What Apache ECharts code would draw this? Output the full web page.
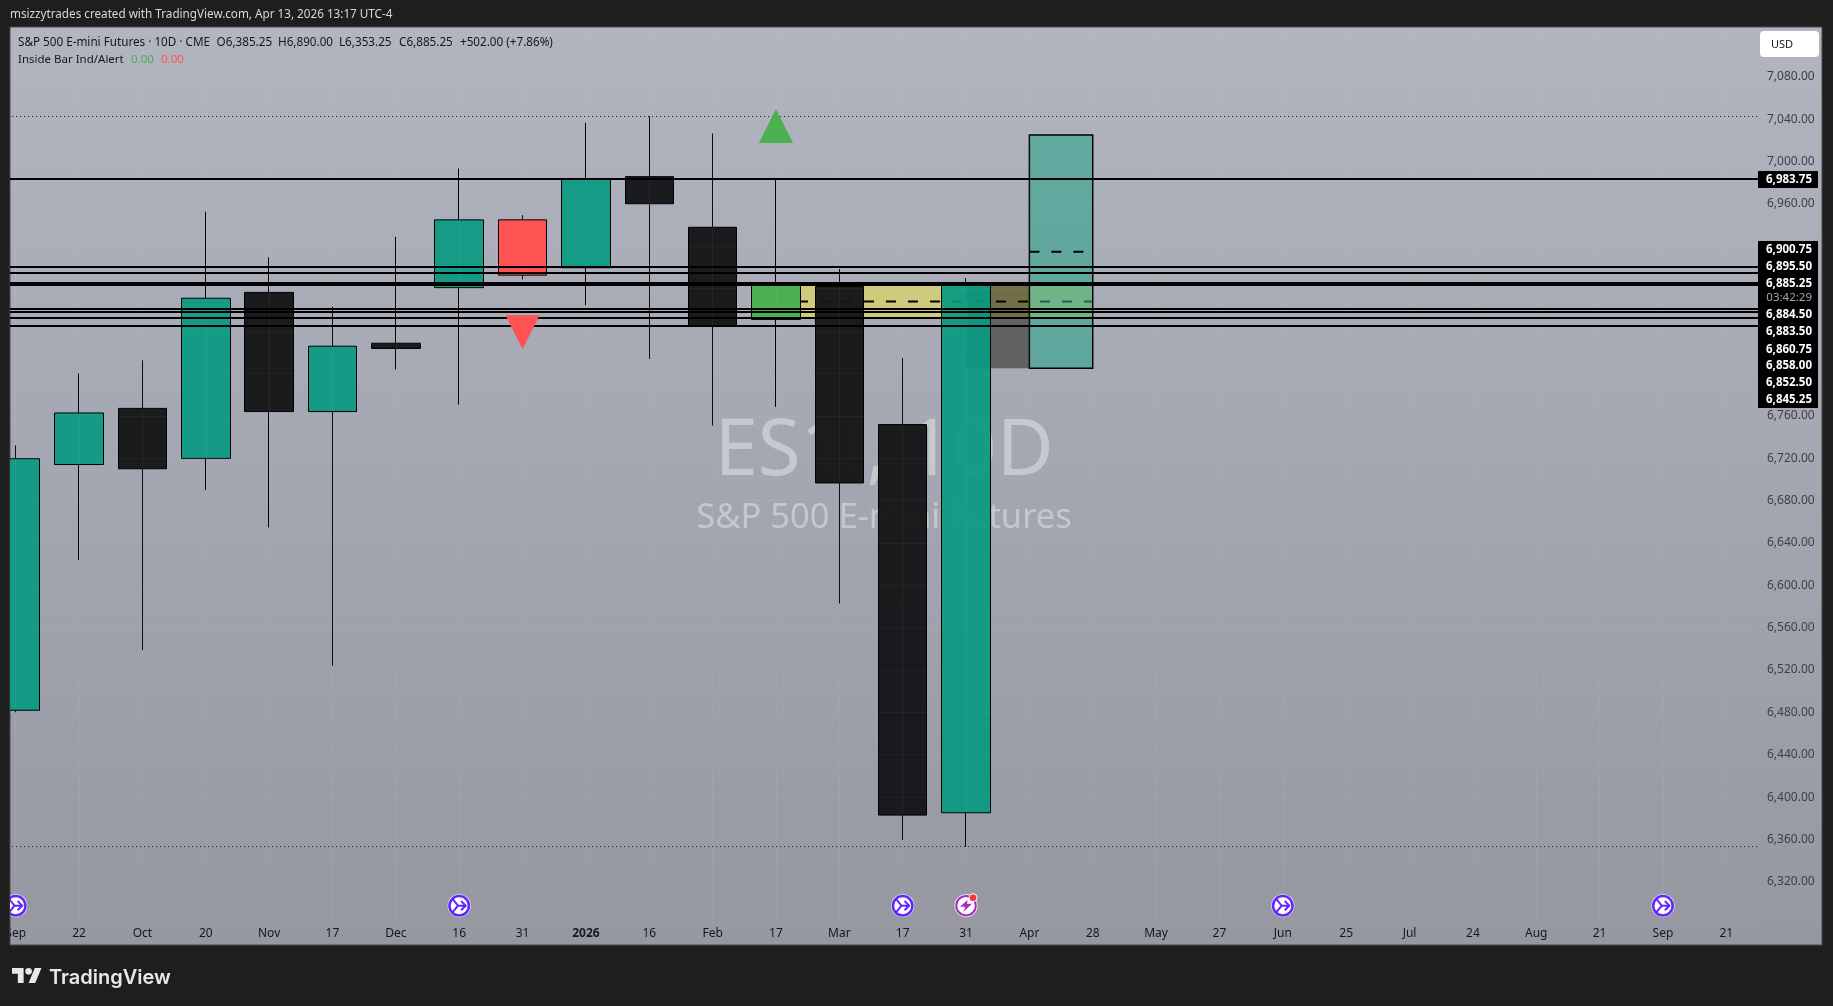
<!DOCTYPE html>
<html><head><meta charset="utf-8">
<style>html,body{margin:0;padding:0;background:#1e1e1e;overflow:hidden;width:1833px;height:1006px}#c{position:absolute;left:-40px;top:0;width:1873px;height:1006px}</style>
<script src="https://cdn.jsdelivr.net/npm/echarts@6/dist/echarts.min.js"></script>
</head><body><div id="c"></div>
<script>
const timeLabels=['Sep','22','Oct','20','Nov','17','Dec','16','31','2026','16','Feb','17','Mar','17','31','Apr','28','May','27','Jun','25','Jul','24','Aug','21','Sep','21'];
const priceTicks=[7080,7040,7000,6960,6760,6720,6680,6640,6600,6560,6520,6480,6440,6400,6360,6320];
// [index, open, close, low, high]
const upCandles=[
 [0,6482,6719.5,6480,6732],[1,6714,6762.7,6623.7,6800],[3,6719.8,6871,6690,6952.7],[5,6764,6825.7,6524,6863],
 [7,6881,6945,6770.6,6993.5],[9,6899.8,6983.6,6864.4,7036.6],[15,6385.25,6885.25,6353.25,6890]];
const downCandles=[
 [2,6767,6710,6538.7,6812.4],[4,6876.5,6764,6654.6,6909.6],[6,6828.5,6823.6,6803.7,6929],[10,6985.8,6960.2,6813.6,7043],
 [11,6938,6844.6,6750.7,7026.6],[13,6882,6696.6,6582.8,6898.7],[14,6751.7,6383,6359.5,6814.6]];
const redBar=[8,6892.8,6945,6888.7,6949.5];
const greenBar=[12,6851,6884,6768.4,6982.6];
const solidLevels=[6983.75,6900.75,6895.5,6885.25,6884.5,6883.5,6860.75,6858,6852.5,6845.25];
const dottedLevels=[7043,6353.25];
const lastClose=6885.25;
const tagBlock=['6,900.75','6,895.50','6,885.25','03:42:29','6,884.50','6,883.50','6,860.75','6,858.00','6,852.50','6,845.25'];
const legendParts=['S&P 500 E-mini Futures · 10D · CME','O6,385.25','H6,890.00','L6,353.25','C6,885.25','+502.00 (+7.86%)'];
const triangleUp=[[12,7033.7]];
const triangleDown=[[8,6839]];
const eventIdx=[0,7,14,20,26];
const earningsIdx=[15];
const eventPrice=6297.5;
// [fromIndex,toIndex,top,bottom]
const yellowBox=[12,17,6885.25,6852.5];
const darkBox=[15,16,6885.25,6805];
const tealBox=[16,17,7025,6805];
const dashMid=[[12,6868],[17,6868]];
const dashTop=[[16,6915],[17,6915]];

const F='"Noto Sans",sans-serif';
const chart=echarts.init(document.getElementById('c'),null,{renderer:'canvas',width:1873,height:1006});
const byIdx=[];
upCandles.concat(downCandles,[redBar,greenBar]).forEach(c=>byIdx[c[0]]=c);
const UP='rgba(8,153,129,.92)',DN='rgba(20,21,23,.96)';
const candleData=timeLabels.map((_,i)=>{
  const c=byIdx[i]; if(!c) return '-';
  const o={value:c.slice(1)};
  if(c===redBar) o.itemStyle={color:'#FF5252',color0:'#FF5252'};
  else if(c===greenBar) o.itemStyle={color:'#4CAF50',color0:'#4CAF50'};
  return o;
});
function boxSeries(b,fill,stroke,z){
  return {type:'custom',z,silent:true,clip:true,encode:{x:[0,1],y:[2,3]},data:[b],
   renderItem:(p,api)=>{
    const a=api.coord([api.value(0),api.value(2)]),d=api.coord([api.value(1),api.value(3)]);
    return {type:'rect',shape:{x:a[0],y:a[1],width:d[0]-a[0],height:d[1]-a[1]},style:{fill,stroke:stroke||null,lineWidth:stroke?1.5:0}};
   }};
}
function dashSeries(d,z){return {type:'line',z,silent:true,symbol:'none',data:d,lineStyle:{color:'#000',width:2,type:[10,12]}};}
function scat(data,sym,size,st,z,extra){return Object.assign({type:'scatter',z,silent:true,symbol:sym,symbolSize:size,data,itemStyle:Object.assign({opacity:1},st)},extra||{});}
const ARROW='path://M4 5L11 12L4 19M11 12H21M15 7L21 12L15 17';
const BOLT='path://M14 2L5 14H11L9 22L19 9H13Z';
const evD=eventIdx.map(i=>[i,eventPrice]), erD=earningsIdx.map(i=>[i,eventPrice]);
const tagX=1758,tagW=60,tagTop=241;
const tagY=[249.3,266.7,284,297.7,314.7,332,349.3,365.3,382.7,400];
const legendX=[18,216.6,278,339,399,460];
const OX=40;
const lg=(pts)=>pts.map(p=>[OX+12+p[0]*.83,964.7+p[1]*.83]);
const g=[
 {type:'rect',z:0,shape:{x:10,y:27,width:1812,height:918},style:{stroke:'#4a4a4a',lineWidth:1,fill:new echarts.graphic.LinearGradient(0,0,0,1,[{offset:0,color:'#b2b5c0'},{offset:1,color:'#9598a1'}])}},
 {type:'text',z:1,x:884,y:453,style:{text:'ES1!, 10D',fill:'rgba(255,255,255,.38)',font:'78px '+F,textAlign:'center',textVerticalAlign:'middle'}},
 {type:'text',z:1,x:884,y:518,style:{text:'S&P 500 E-mini Futures',fill:'rgba(255,255,255,.38)',font:'34.5px '+F,textAlign:'center',textVerticalAlign:'middle'}},
 {type:'rect',z:100,shape:{x:-40,y:0,width:50,height:1006},style:{fill:'#1e1e1e'}},
 {type:'rect',z:100,shape:{x:9.5,y:27,width:.5,height:918},style:{fill:'#4a4a4a'}},
 {type:'text',z:101,x:10,y:15,style:{text:'msizzytrades created with TradingView.com, Apr 13, 2026 13:17 UTC-4',fill:'#d8d8d8',font:'11.7px '+F,textVerticalAlign:'middle'}},
 {type:'text',z:101,x:18,y:60,style:{text:'Inside Bar Ind/Alert',fill:'#131722',font:'11.5px '+F,textVerticalAlign:'middle'}},
 {type:'text',z:101,x:131,y:60,style:{text:'0.00',fill:'#4CAF50',font:'11.5px '+F,textVerticalAlign:'middle'}},
 {type:'text',z:101,x:161,y:60,style:{text:'0.00',fill:'#FF5252',font:'11.5px '+F,textVerticalAlign:'middle'}},
 {type:'rect',z:101,shape:{x:1760,y:31,width:59,height:26,r:4},style:{fill:'#fff'}},
 {type:'text',z:102,x:1771,y:45,style:{text:'USD',fill:'#131722',font:'11px '+F,textVerticalAlign:'middle'}},
 {type:'rect',z:101,shape:{x:tagX,y:171,width:tagW,height:17},style:{fill:'#000'}},
 {type:'text',z:102,x:1812,y:180,style:{text:'6,983.75',fill:'#fff',font:'bold 11.5px '+F,textAlign:'right',textVerticalAlign:'middle'}},
 {type:'rect',z:101,shape:{x:tagX,y:tagTop,width:tagW,height:167},style:{fill:'#000'}},
 {type:'text',z:101,x:49,y:978,style:{text:'TradingView',fill:'#e8e8e8',font:'600 20px Inter,'+F,textVerticalAlign:'middle'}}
];
legendParts.forEach((t,i)=>g.push({type:'text',z:101,x:legendX[i],y:43,style:{text:t,fill:'#131722',font:'11.7px '+F,textVerticalAlign:'middle'}}));
tagBlock.forEach((t,i)=>g.push({type:'text',z:102,x:1812,y:tagY[i],style:{text:t,fill:t.includes(':')?'#a8a8a8':'#fff',font:(t.includes(':')?'':'bold ')+'11.5px '+F,textAlign:'right',textVerticalAlign:'middle'}}));
g.forEach(e=>{
  if(e.x!==undefined) e.x+=OX;
  if(e.shape) e.shape.x+=OX;
});
g.push(
 {type:'polygon',z:101,shape:{points:lg([[0,4],[14,4],[14,22],[7,22],[7,11],[0,11]])},style:{fill:'#e8e8e8'}},
 {type:'polygon',z:101,shape:{points:lg([[20,22],[27.5,4],[35.5,4],[28,22]])},style:{fill:'#e8e8e8'}},
 {type:'circle',z:101,shape:{cx:OX+12+20*.83,cy:964.7+8*.83,r:3.3},style:{fill:'#e8e8e8'}}
);

chart.setOption({
 animation:false,backgroundColor:'#1e1e1e',
 grid:{left:24,right:75,top:34.5,bottom:81.8,containLabel:false},
 graphic:{elements:g},
 xAxis:{type:'category',data:timeLabels,z:5,axisLine:{show:false},axisTick:{show:false},
  splitLine:{show:true,alignWithLabel:true,lineStyle:{color:'rgba(255,255,255,.05)',width:1}},
  axisLabel:{interval:0,margin:3.5,fontFamily:F,fontSize:12,color:'#131722',
   formatter:v=>v==='2026'?'{b|2026}':v,rich:{b:{fontWeight:'bold',fontSize:12,fontFamily:F,color:'#131722'}}}},
 yAxis:{type:'value',position:'right',min:6280,max:7120,interval:40,scale:true,z:5,
  axisLine:{show:false},axisTick:{show:false},
  splitLine:{show:true,lineStyle:{color:'rgba(255,255,255,.04)',width:1}},
  axisLabel:{margin:9,fontFamily:F,fontSize:12,color:'#3c3f48',align:'left',
   formatter:v=>priceTicks.includes(v)?v.toLocaleString('en-US',{minimumFractionDigits:2}):''}},
 series:[
  {type:'line',z:1,silent:true,data:[],markLine:{silent:true,symbol:'none',label:{show:false},animation:false,
    lineStyle:{color:'#000',width:2,type:'solid'},data:solidLevels.map(v=>({yAxis:v}))}},
  {type:'line',z:1,silent:true,data:[],markLine:{silent:true,symbol:'none',label:{show:false},animation:false,
    lineStyle:{color:'#222',width:1,type:[1,3]},data:dottedLevels.map(v=>({yAxis:v}))}},
  boxSeries(yellowBox,'rgba(245,232,68,.5)',null,2),
  boxSeries(darkBox,'rgba(36,36,30,.55)',null,2),
  dashSeries(dashMid,2),
  {type:'candlestick',z:3,silent:true,barWidth:49,data:candleData,
   itemStyle:{color:UP,color0:DN,borderColor:'#000',borderColor0:'#000',borderWidth:1}},
  boxSeries(tealBox,'rgba(46,163,140,.6)','#000',4),
  dashSeries(dashTop,5),
  {type:'line',z:5,silent:true,data:[],markLine:{silent:true,symbol:'none',label:{show:false},animation:false,
    lineStyle:{color:'#111',width:1,type:[1,3]},data:[{yAxis:lastClose}]}},
  scat(triangleUp,'triangle',34,{color:'#4CAF50'},6),
  scat(triangleDown,'triangle',34,{color:'#FF5252'},6,{symbolRotate:180}),
  scat(evD,'circle',23,{color:'#fff'},6),
  scat(evD,'circle',19.5,{color:'#fff',borderColor:'#6224ff',borderWidth:2.5},7),
  scat(evD,ARROW,13,{color:'rgba(0,0,0,0)',borderColor:'#6224ff',borderWidth:2},8),
  scat(erD,'circle',23,{color:'#fff'},6),
  scat(erD,'circle',19.5,{color:'#fff',borderColor:'#a32bc4',borderWidth:2},7),
  scat(erD,BOLT,12,{color:'#a32bc4'},8),
  scat(erD,'circle',8,{color:'#f23645',borderColor:'#fff',borderWidth:1},9,{symbolOffset:[7,-8]})
 ]
});
</script></body></html>
